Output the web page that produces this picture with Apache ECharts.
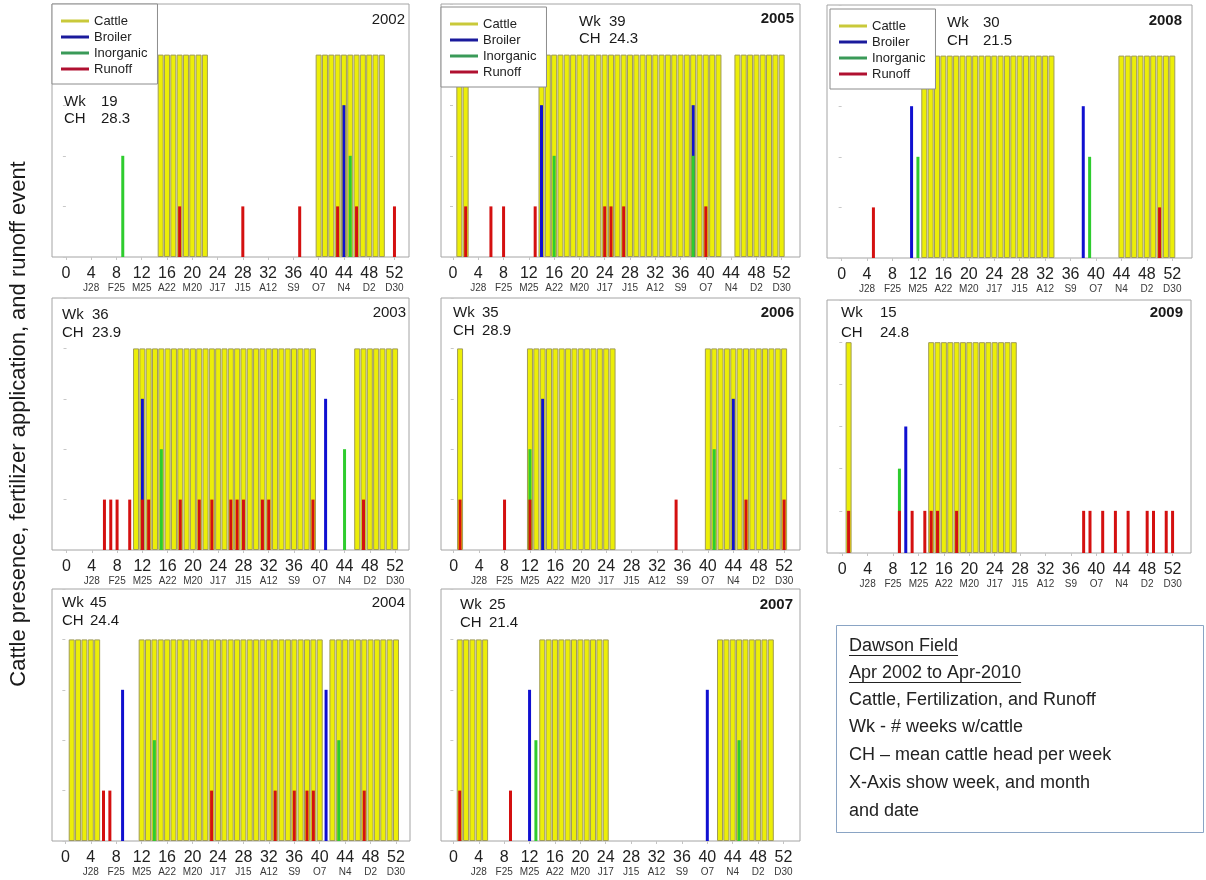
<!DOCTYPE html>
<html><head><meta charset="utf-8">
<script src="https://cdn.jsdelivr.net/npm/echarts@6/dist/echarts.min.js"></script>
<style>html,body{margin:0;padding:0;background:#fff}#c{width:1206px;height:880px}</style>
</head><body><div id="c"></div>
<script>
// ---------- data ----------
const weekTicks = [0, 4, 8, 12, 16, 20, 24, 28, 32, 36, 40, 44, 48, 52];
const monthLabels = ['', 'J28', 'F25', 'M25', 'A22', 'M20', 'J17', 'J15', 'A12', 'S9', 'O7', 'N4', 'D2', 'D30'];
const years = [2002, 2005, 2008, 2003, 2006, 2009, 2004, 2007];
const wkValues = [19, 39, 30, 36, 35, 15, 45, 25];
const chValues = [28.3, 24.3, 21.5, 23.9, 28.9, 24.8, 24.4, 21.4];
const cattleLevel = [4, 4, 4, 4, 4, 5, 4, 4];
const broilerLevel = 3;
const inorganicLevel = 2;
const runoffLevel = 1;

const cattle2002 = [15, 16, 17, 18, 19, 20, 21, 22, 40, 41, 42, 43, 44, 45, 46, 47, 48, 49, 50];
const broiler2002 = [44];
const inorganic2002 = [9, 45];
const runoff2002 = [18, 28, 37, 43, 46, 52];

const cattle2005 = [1, 2, 14, 15, 16, 17, 18, 19, 20, 21, 22, 23, 24, 25, 26, 27, 28, 29, 30, 31, 32, 33, 34, 35, 36, 37, 38, 39, 40, 41, 42, 45, 46, 47, 48, 49, 50, 51, 52];
const broiler2005 = [14, 38];
const inorganic2005 = [16, 38];
const runoff2005 = [2, 6, 8, 13, 24, 25, 27, 40];

const cattle2008 = [13, 14, 15, 16, 17, 18, 19, 20, 21, 22, 23, 24, 25, 26, 27, 28, 29, 30, 31, 32, 33, 44, 45, 46, 47, 48, 49, 50, 51, 52];
const broiler2008 = [11, 38];
const inorganic2008 = [12, 39];
const runoff2008 = [5, 50];

const cattle2003 = [11, 12, 13, 14, 15, 16, 17, 18, 19, 20, 21, 22, 23, 24, 25, 26, 27, 28, 29, 30, 31, 32, 33, 34, 35, 36, 37, 38, 39, 46, 47, 48, 49, 50, 51, 52];
const broiler2003 = [12, 41];
const inorganic2003 = [15, 44];
const runoff2003 = [6, 7, 8, 10, 12, 13, 18, 21, 23, 26, 27, 28, 31, 32, 39, 47];

const cattle2006 = [1, 12, 13, 14, 15, 16, 17, 18, 19, 20, 21, 22, 23, 24, 25, 40, 41, 42, 43, 44, 45, 46, 47, 48, 49, 50, 51, 52];
const broiler2006 = [14, 44];
const inorganic2006 = [12, 41];
const runoff2006 = [1, 8, 12, 35, 46, 52];

const cattle2009 = [1, 14, 15, 16, 17, 18, 19, 20, 21, 22, 23, 24, 25, 26, 27];
const broiler2009 = [10];
const inorganic2009 = [9];
const runoff2009 = [1, 9, 11, 13, 14, 15, 18, 38, 39, 41, 43, 45, 48, 49, 51, 52];

const cattle2004 = [1, 2, 3, 4, 5, 12, 13, 14, 15, 16, 17, 18, 19, 20, 21, 22, 23, 24, 25, 26, 27, 28, 29, 30, 31, 32, 33, 34, 35, 36, 37, 38, 39, 40, 42, 43, 44, 45, 46, 47, 48, 49, 50, 51, 52];
const broiler2004 = [9, 41];
const inorganic2004 = [14, 43];
const runoff2004 = [6, 7, 23, 33, 36, 38, 39, 47];

const cattle2007 = [1, 2, 3, 4, 5, 14, 15, 16, 17, 18, 19, 20, 21, 22, 23, 24, 42, 43, 44, 45, 46, 47, 48, 49, 50];
const broiler2007 = [12, 40];
const inorganic2007 = [13, 45];
const runoff2007 = [1, 9];

const cattleByPanel = [cattle2002, cattle2005, cattle2008, cattle2003, cattle2006, cattle2009, cattle2004, cattle2007];
const broilerByPanel = [broiler2002, broiler2005, broiler2008, broiler2003, broiler2006, broiler2009, broiler2004, broiler2007];
const inorganicByPanel = [inorganic2002, inorganic2005, inorganic2008, inorganic2003, inorganic2006, inorganic2009, inorganic2004, inorganic2007];
const runoffByPanel = [runoff2002, runoff2005, runoff2008, runoff2003, runoff2006, runoff2009, runoff2004, runoff2007];

const yTitle = 'Cattle presence, fertilizer application, and runoff event';
const noteLines = ['Dawson Field', 'Apr 2002 to Apr-2010', 'Cattle, Fertilization, and Runoff',
  'Wk - # weeks w/cattle', 'CH \u2013 mean cattle head per week', 'X-Axis show week, and month', 'and date'];

// ---------- layout / style ----------
const FONT = '"Liberation Sans", Arial, sans-serif';
const layout = [
  {l: 52,  t: 4,   w: 357, h: 253, min: -2.2, max: 54.3, ymax: 5, bold: false, yr: [405, 19.5], wk: [64, 101, 102, 118.5], legend: [52, 4]},
  {l: 441, t: 4,   w: 359, h: 253, min: -1.9, max: 54.9, ymax: 5, bold: true,  yr: [794, 19],   wk: [579, 609, 22, 38.5], legend: [441, 7]},
  {l: 827, t: 5,   w: 365, h: 253, min: -2.3, max: 55.1, ymax: 5, bold: true,  yr: [1182, 20.5], wk: [947, 983, 23, 40.5], legend: [830, 9]},
  {l: 52,  t: 298, w: 357, h: 252, min: -2.3, max: 54.2, ymax: 5, bold: false, yr: [406, 313],  wk: [62, 92, 315, 333]},
  {l: 441, t: 298, w: 359, h: 252, min: -2.0, max: 54.5, ymax: 5, bold: true,  yr: [794, 313],  wk: [453, 482, 313, 331]},
  {l: 827, t: 300, w: 364, h: 253, min: -2.4, max: 54.9, ymax: 6, bold: true,  yr: [1183, 313], wk: [841, 880, 313, 333]},
  {l: 52,  t: 589, w: 358, h: 252, min: -2.1, max: 54.2, ymax: 5, bold: false, yr: [405, 603],  wk: [62, 90, 603, 621]},
  {l: 441, t: 589, w: 359, h: 252, min: -1.95, max: 54.6, ymax: 5, bold: true, yr: [793, 605],  wk: [460, 489, 605, 623]}
];
const COL = {cattle: '#ecee08', cattleBorder: '#a09c58', broiler: '#1010d0', inorganic: '#2ecc2e', runoff: '#d41010'};

const grids = [], xAxes = [], yAxes = [], series = [], legends = [], graphics = [];

layout.forEach((p, i) => {
  grids.push({left: p.l, top: p.t, width: p.w, height: p.h, show: true, borderColor: '#a4a4a4', borderWidth: 1, backgroundColor: '#fff'});
  const baseX = {
    type: 'value', gridIndex: i, min: p.min, max: p.max,
    axisLine: {show: false}, splitLine: {show: false}
  };
  xAxes.push(Object.assign({}, baseX, {
    axisTick: {show: true, customValues: weekTicks, length: 3, lineStyle: {color: '#c4c4c4'}},
    axisLabel: {
      show: true, customValues: weekTicks, margin: 9,
      formatter: v => '{n|' + v + '}\n{m|' + (monthLabels[weekTicks.indexOf(v)] || ' ') + '}',
      rich: {
        n: {fontSize: 16, lineHeight: 16, color: '#222', fontFamily: FONT},
        m: {fontSize: 10, lineHeight: 12, color: '#383838', fontFamily: FONT}
      }
    }
  }));
  xAxes.push(Object.assign({}, baseX, {show: false}));
  yAxes.push({
    type: 'value', gridIndex: i, min: 0, max: p.ymax, interval: 1,
    axisLine: {show: false}, splitLine: {show: false}, axisLabel: {show: false},
    axisTick: {show: true, length: 3, lineStyle: {color: '#c8c8c8'}}
  });

  series.push({
    name: 'Cattle', type: 'bar', xAxisIndex: 2 * i, yAxisIndex: i, barWidth: 6, z: 2,
    itemStyle: {color: COL.cattle, borderColor: COL.cattleBorder, borderWidth: 1},
    data: cattleByPanel[i].map(w => [w, cattleLevel[i]]), animation: false
  });
  series.push({
    name: 'Broiler', type: 'bar', xAxisIndex: 2 * i + 1, yAxisIndex: i, barWidth: 3, barGap: '-100%', z: 3,
    itemStyle: {color: COL.broiler}, data: broilerByPanel[i].map(w => [w, broilerLevel]), animation: false
  });
  series.push({
    name: 'Inorganic', type: 'bar', xAxisIndex: 2 * i + 1, yAxisIndex: i, barWidth: 3, barGap: '-100%', z: 4,
    itemStyle: {color: COL.inorganic}, data: inorganicByPanel[i].map(w => [w, inorganicLevel]), animation: false
  });
  series.push({
    name: 'Runoff', type: 'bar', xAxisIndex: 2 * i + 1, yAxisIndex: i, barWidth: 3, barGap: '-100%', z: 5,
    itemStyle: {color: COL.runoff}, data: runoffByPanel[i].map(w => [w, runoffLevel]), animation: false
  });

  if (p.legend) {
    legends.push({
      left: p.legend[0], top: p.legend[1], orient: 'vertical', z: 20,
      backgroundColor: '#fff', borderColor: '#8c8c8c', borderWidth: 1, borderRadius: 0,
      padding: [10, 10, 8, 9], itemWidth: 28, itemHeight: 3, itemGap: 2, icon: 'rect', selectedMode: false,
      textStyle: {fontSize: 13, lineHeight: 14, color: '#222', fontFamily: FONT},
      data: [
        {name: 'Cattle', itemStyle: {color: '#c9c93a', borderWidth: 0}},
        {name: 'Broiler', itemStyle: {color: '#1a1a9c'}},
        {name: 'Inorganic', itemStyle: {color: '#3a9a58'}},
        {name: 'Runoff', itemStyle: {color: '#b01030'}}
      ]
    });
  }

  const txt = (text, x, y, align, weight) => ({
    type: 'text', z: 30,
    style: {text, x, y, align, verticalAlign: 'middle', fontSize: 15, fontFamily: FONT, fontWeight: weight || 'normal', fill: '#1a1a1a'}
  });
  graphics.push(txt(String(years[i]), p.yr[0], p.yr[1], 'right', p.bold ? 'bold' : 'normal'));
  graphics.push(txt('Wk', p.wk[0], p.wk[2], 'left'));
  graphics.push(txt(String(wkValues[i]), p.wk[1], p.wk[2], 'left'));
  graphics.push(txt('CH', p.wk[0], p.wk[3], 'left'));
  graphics.push(txt(chValues[i].toFixed(1), p.wk[1], p.wk[3], 'left'));
});

// y title
graphics.push({
  type: 'text', x: 19, y: 424, rotation: Math.PI / 2, z: 30,
  style: {text: yTitle, x: 0, y: 0, align: 'center', verticalAlign: 'middle', fontSize: 22, fontFamily: FONT, fill: '#1a1a1a'}
});

// note box
graphics.push({type: 'rect', z: 30, shape: {x: 836.5, y: 625.5, width: 367, height: 207}, style: {fill: '#fff', stroke: '#8aa4c4', lineWidth: 1}});
const ctx = document.createElement('canvas').getContext('2d');
ctx.font = '18px ' + FONT;
const noteY = [646, 673, 700, 727, 755, 783, 811];
noteLines.forEach((t, k) => {
  graphics.push({type: 'text', z: 31, style: {text: t, x: 849, y: noteY[k], align: 'left', verticalAlign: 'middle', fontSize: 18, fontFamily: FONT, fill: '#222'}});
  if (k < 2) {
    const w = ctx.measureText(t).width;
    graphics.push({type: 'line', z: 31, shape: {x1: 849, y1: noteY[k] + 9.5, x2: 849 + w, y2: noteY[k] + 9.5}, style: {stroke: '#222', lineWidth: 1}});
  }
});

const chart = echarts.init(document.getElementById('c'), null, {renderer: 'canvas'});
chart.setOption({
  animation: false,
  grid: grids, xAxis: xAxes, yAxis: yAxes, series, legend: legends, graphic: graphics
});
</script></body></html>
